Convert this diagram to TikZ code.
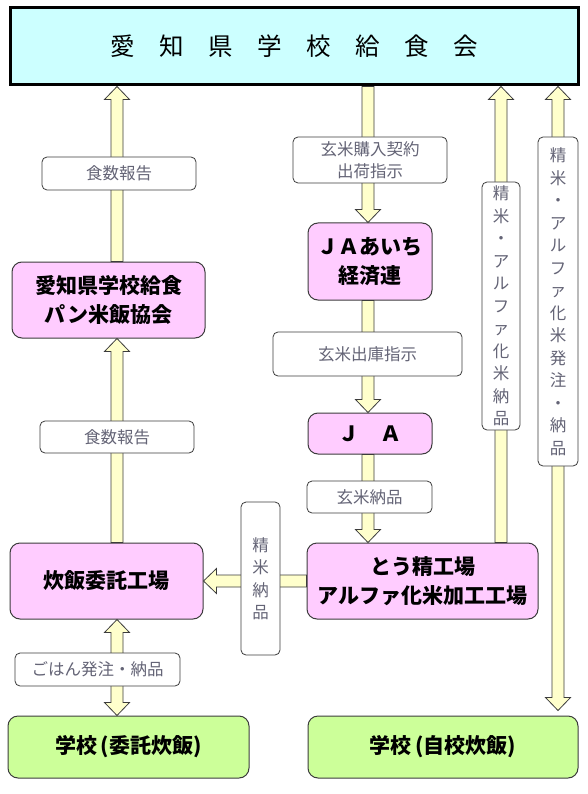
\documentclass[tikz,border=0pt]{standalone}
\usepackage{fontspec}
\newfontfamily\cjk{Noto Sans CJK JP}
\usetikzlibrary{calc}
\definecolor{titlefill}{RGB}{204,255,255}
\definecolor{orgfill}{RGB}{255,204,255}
\definecolor{schoolfill}{RGB}{204,255,153}
\definecolor{arrowfill}{RGB}{255,255,204}
\definecolor{labeltext}{RGB}{100,100,118}
\definecolor{edge}{RGB}{60,60,60}
\newcommand{\blockarrow}[2]{%
  \coordinate (hb) at ($(#2)!13pt!(#1)$);
  \draw[arrowbody] ($(#1)!6pt!90:(#2)$) -- ($(hb)!6pt!90:(#2)$) -- ($(hb)!12.5pt!90:(#2)$) -- (#2)
    -- ($(hb)!12.5pt!-90:(#2)$) -- ($(hb)!6pt!-90:(#2)$) -- ($(#1)!6pt!-90:(#2)$) -- cycle;}
\newcommand{\twinarrow}[2]{%
  \coordinate (ha) at ($(#1)!13pt!(#2)$);
  \coordinate (hb) at ($(#2)!13pt!(#1)$);
  \draw[arrowbody] (#1) -- ($(ha)!12.5pt!90:(#2)$) -- ($(ha)!6pt!90:(#2)$) -- ($(hb)!6pt!90:(#2)$)
    -- ($(hb)!12.5pt!90:(#2)$) -- (#2) -- ($(hb)!12.5pt!-90:(#2)$) -- ($(hb)!6pt!-90:(#2)$)
    -- ($(ha)!6pt!-90:(#2)$) -- ($(ha)!12.5pt!-90:(#2)$) -- cycle;}
\begin{document}
\begin{tikzpicture}[x=1pt,y=-1pt,
  titlebox/.style={draw=black, fill=titlefill, line width=3pt, inner sep=0pt,
    font=\cjk\fontsize{24.5}{30}\selectfont},
  orgbox/.style={draw=edge, fill=orgfill, rounded corners=10pt, line width=1pt, inner sep=0pt,
    align=center, font=\cjk\bfseries\fontsize{21}{28.5}\selectfont},
  schoolbox/.style={orgbox, fill=schoolfill},
  tagbox/.style={draw=edge, fill=white, rounded corners=5pt, line width=0.8pt, inner sep=0pt,
    align=center, text=labeltext, font=\cjk\fontsize{16.5}{22.5}\selectfont},
  arrowbody/.style={draw=edge, fill=arrowfill, line width=0.8pt, line join=miter}]
\useasboundingbox (0,0) rectangle (588,794);
\fill[white] (0,0) rectangle (588,794);
\node[titlebox, minimum width=568, minimum height=77] (top) at (294,46.5) {愛　知　県　学　校　給　食　会};
\node[orgbox, minimum width=193, minimum height=76] (pan) at (108.5,300) {愛知県学校給食\\パン米飯協会};
\node[orgbox, minimum width=193, minimum height=76] (suihan) at (106.5,581) {炊飯委託工場};
\node[schoolbox, minimum width=241, minimum height=62] (itaku) at (128.5,747) {学校\,(委託炊飯)};
\node[orgbox, minimum width=124, minimum height=77] (keizairen) at (370,261.5) {ＪＡあいち\\経済連};
\node[orgbox, minimum width=124, minimum height=41] (ja) at (370,433.5) {Ｊ　Ａ};
\node[orgbox, minimum width=231, minimum height=76] (mill) at (422.5,581) {とう精工場\\アルファ化米加工工場};
\node[schoolbox, minimum width=270, minimum height=62] (jiko) at (443,747) {学校\,(自校炊飯)};
\coordinate (xl) at (117,0);
\coordinate (xm) at (368,0);
\coordinate (xr) at (501,0);
\coordinate (xs) at (558,0);
\blockarrow{pan.north -| xl}{top.south -| xl}
\blockarrow{suihan.north -| xl}{pan.south -| xl}
\twinarrow{suihan.south -| xl}{itaku.north -| xl}
\blockarrow{top.south -| xm}{keizairen.north -| xm}
\blockarrow{keizairen.south -| xm}{ja.north -| xm}
\blockarrow{ja.south -| xm}{mill.north -| xm}
\blockarrow{mill.west}{suihan.east}
\blockarrow{mill.north -| xr}{top.south -| xr}
\coordinate (jikotip) at ($(jiko.north -| xs)+(0,-5)$);
\twinarrow{top.south -| xs}{jikotip}
\node[tagbox, minimum width=154, minimum height=33] (report1) at (119,173.5) {食数報告};
\node[tagbox, minimum width=154, minimum height=32] (report2) at (117,437) {食数報告};
\node[tagbox, minimum width=165, minimum height=33] (gohan) at (97.5,669.5) {ごはん発注・納品};
\node[tagbox, minimum width=154, minimum height=46] (keiyaku) at (370,160) {玄米購入契約\\出荷指示};
\node[tagbox, minimum width=189, minimum height=44] (shukko) at (367.5,354) {玄米出庫指示};
\node[tagbox, minimum width=125, minimum height=32] (nohin) at (369.5,497) {玄米納品};
\node[tagbox, minimum width=39, minimum height=153] (seimai) at (260.5,578.5) {精\\米\\納\\品};
\node[tagbox, minimum width=38, minimum height=248] (alpha) at (501,306) {精\\米\\・\\ア\\ル\\フ\\ァ\\化\\米\\納\\品};
\node[tagbox, minimum width=40, minimum height=329] (hatchu) at (558,301.5) {精\\米\\・\\ア\\ル\\フ\\ァ\\化\\米\\発\\注\\・\\納\\品};
\end{tikzpicture}
\end{document}
